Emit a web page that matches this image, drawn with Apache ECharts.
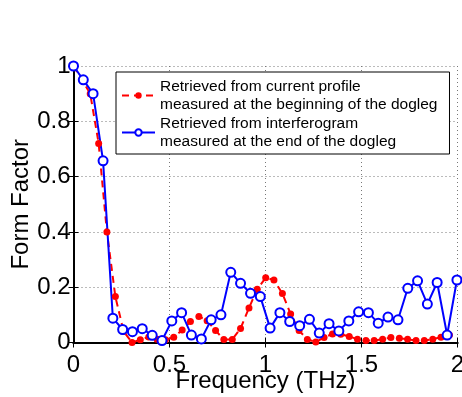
<!DOCTYPE html>
<html>
<head>
<meta charset="utf-8">
<style>
  html, body { margin: 0; padding: 0; background: #fff; }
  #chart { width: 462px; height: 397px; }
</style>
<script src="https://cdn.jsdelivr.net/npm/echarts@6/dist/echarts.min.js"></script>
</head>
<body>
<div id="chart"></div>
<script>
// red: form factor from current profile (dogleg start)
var freqRed = [0, 0.044, 0.087, 0.131, 0.174, 0.218, 0.261, 0.305, 0.348, 0.392,
  0.435, 0.479, 0.522, 0.566, 0.609, 0.653, 0.696, 0.740, 0.783, 0.827,
  0.870, 0.914, 0.957, 1.001, 1.044, 1.088, 1.131, 1.175, 1.218, 1.262,
  1.305, 1.349, 1.392, 1.436, 1.479, 1.523, 1.566, 1.610, 1.653, 1.697,
  1.740, 1.784, 1.827, 1.871, 1.914, 1.958];
var formRed = [1.0, 0.95, 0.90, 0.72, 0.40, 0.166, 0.04, 0.0, 0.01, 0.02,
  0.012, 0.01, 0.019, 0.045, 0.076, 0.094, 0.079, 0.043, 0.011, 0.011,
  0.051, 0.125, 0.193, 0.234, 0.226, 0.177, 0.103, 0.043, 0.011, 0.002,
  0.018, 0.031, 0.03, 0.022, 0.012, 0.007, 0.007, 0.012, 0.018, 0.015,
  0.012, 0.007, 0.007, 0.012, 0.019, 0.027];

// blue: form factor from interferogram (dogleg end)
var freqBlue = [0, 0.051, 0.102, 0.154, 0.205, 0.256, 0.307, 0.358, 0.410, 0.461,
  0.512, 0.563, 0.614, 0.666, 0.717, 0.768, 0.819, 0.870, 0.922, 0.973,
  1.024, 1.075, 1.126, 1.178, 1.229, 1.280, 1.331, 1.382, 1.434, 1.485,
  1.536, 1.587, 1.638, 1.690, 1.741, 1.792, 1.843, 1.894, 1.946, 1.997];
var formBlue = [1.0, 0.95, 0.90, 0.657, 0.088, 0.047, 0.039, 0.050, 0.026, 0.007,
  0.078, 0.108, 0.027, 0.013, 0.082, 0.100, 0.254, 0.214, 0.178, 0.166,
  0.052, 0.108, 0.076, 0.061, 0.084, 0.034, 0.068, 0.042, 0.078, 0.111,
  0.108, 0.070, 0.092, 0.082, 0.196, 0.223, 0.139, 0.217, 0.027, 0.226];

var nameRed = 'Retrieved from current profile\nmeasured at the beginning of the dogleg';
var nameBlue = 'Retrieved from interferogram\nmeasured at the end of the dogleg';

function pairs(xs, ys) {
  var out = [];
  for (var i = 0; i < xs.length; i++) out.push([xs[i], ys[i]]);
  return out;
}

var font = 'Liberation Sans, Arial, Helvetica, sans-serif';
var gridDots = { show: true, lineStyle: { color: '#777', type: [1, 3], width: 1 } };
var axisBlack = { show: true, lineStyle: { color: '#000', width: 2 } };
var tickIn = { show: true, inside: true, length: 5, lineStyle: { color: '#000', width: 1 } };

var myChart = echarts.init(document.getElementById('chart'));
var option = {
  animation: false,
  textStyle: { fontFamily: font },
  grid: { left: 73.5, right: 4.5, top: 66, bottom: 54.5, outerBoundsMode: 'none', containLabel: false },
  legend: {
    left: 116, top: 72,
    orient: 'vertical',
    itemGap: 2,
    itemWidth: 33,
    itemHeight: 8,
    padding: [6, 12, 4, 5],
    borderColor: '#000', borderWidth: 1,
    backgroundColor: '#fff',
    textStyle: { fontFamily: font, fontSize: 15.5, lineHeight: 17.5, color: '#000' },
    data: [nameRed, nameBlue]
  },
  xAxis: [{
    type: 'value', min: 0, max: 2, interval: 0.5,
    name: 'Frequency (THz)', nameLocation: 'middle', nameGap: 27, nameMoveOverlap: false,
    nameTextStyle: { fontSize: 24, color: '#000', fontFamily: font },
    axisLine: axisBlack, axisTick: tickIn, splitLine: gridDots,
    axisLabel: { fontSize: 24, color: '#000', margin: 11, fontFamily: font }
  }, {
    type: 'value', min: 0, max: 2, interval: 0.5, position: 'top',
    axisLine: axisBlack, axisTick: tickIn, axisLabel: { show: false }, splitLine: { show: false }
  }],
  yAxis: [{
    type: 'value', min: 0, max: 1, interval: 0.2,
    name: 'Form Factor', nameLocation: 'middle', nameGap: 40, nameMoveOverlap: false,
    nameTextStyle: { fontSize: 24, color: '#000', fontFamily: font },
    axisLine: axisBlack, axisTick: tickIn, splitLine: gridDots,
    axisLabel: { fontSize: 24, color: '#000', margin: 3, fontFamily: font }
  }, {
    type: 'value', min: 0, max: 1, interval: 0.2, position: 'right',
    axisLine: axisBlack, axisTick: tickIn, axisLabel: { show: false }, splitLine: { show: false }
  }],
  series: [{
    name: nameRed,
    type: 'line',
    data: pairs(freqRed, formRed),
    clip: false,
    symbol: 'circle', symbolSize: 7,
    itemStyle: { color: '#ff0000' },
    lineStyle: { color: '#ff0000', width: 2, type: [7, 5] }
  }, {
    name: nameBlue,
    type: 'line',
    data: pairs(freqBlue, formBlue),
    clip: false,
    symbol: 'emptyCircle', symbolSize: 9,
    itemStyle: { color: '#0000ff', borderWidth: 2 },
    lineStyle: { color: '#0000ff', width: 2 }
  }]
};
myChart.setOption(option);
</script>
</body>
</html>
